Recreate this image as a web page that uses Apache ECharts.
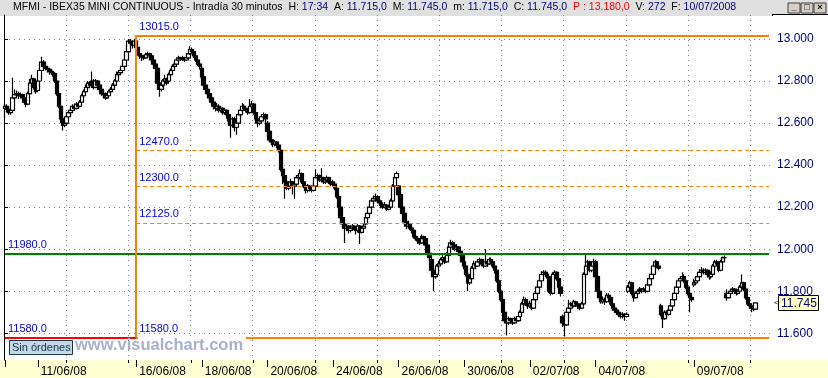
<!DOCTYPE html>
<html>
<head>
<meta charset="utf-8">
<script src="https://cdn.jsdelivr.net/npm/echarts@6/dist/echarts.min.js"></script>
<style>
html,body{margin:0;padding:0;}
body{background:#fff;}
#c{width:828px;height:378px;background:linear-gradient(to bottom,#e0e0e0 0px,#e0e0e0 16px,#ffffff 16px,#ffffff 360px,#ffffd4 360px,#ffffd4 378px);}
</style>
</head>
<body>
<div id="c"></div>
<script>
// ---- data ----
const days = ['10/06/08','11/06/08','12/06/08','13/06/08','16/06/08','17/06/08','18/06/08','19/06/08','20/06/08','23/06/08','24/06/08','25/06/08','26/06/08','27/06/08','30/06/08','01/07/08','02/07/08','03/07/08','04/07/08','07/07/08','08/07/08','09/07/08','10/07/08'];
const times = ['09:00','09:30','10:00','10:30','11:00','11:30','12:00','12:30','13:00','13:30','14:00','14:30','15:00','15:30','16:00','16:30','17:00'];
const dateLabels = ['11/06/08','16/06/08','18/06/08','20/06/08','24/06/08','26/06/08','30/06/08','02/07/08','04/07/08','09/07/08'];
const tickOnlyDays = ['10/06/08'];
const padCategories = ['p1','p2','p3','p4','p5','p6','p7'];

// [open, close, low, high] per 30-minute bar
const ohlc = [
// 10/06
[12670,12680,12620,12695],[12680,12665,12650,12690],[12665,12650,12640,12670],[12650,12660,12640,12675],[12660,12720,12655,12815],[12720,12735,12710,12760],[12735,12740,12720,12755],[12740,12730,12715,12750],[12730,12735,12720,12745],[12735,12720,12710,12740],[12720,12700,12690,12725],[12700,12690,12675,12710],[12690,12740,12685,12750],[12740,12790,12735,12810],[12790,12810,12780,12830],[12810,12770,12760,12815],[12770,12750,12740,12780],
// 11/06
[12755,12800,12750,12810],[12800,12850,12795,12860],[12850,12890,12845,12915],[12890,12870,12860,12900],[12870,12860,12850,12880],[12860,12855,12840,12870],[12855,12845,12830,12860],[12845,12840,12830,12855],[12840,12835,12820,12850],[12835,12800,12790,12840],[12800,12740,12730,12805],[12740,12680,12670,12745],[12680,12620,12600,12690],[12620,12590,12565,12630],[12590,12600,12580,12620],[12600,12630,12590,12645],[12630,12650,12620,12660],
// 12/06
[12650,12660,12640,12670],[12660,12680,12655,12690],[12680,12670,12660,12690],[12670,12690,12665,12700],[12690,12680,12670,12695],[12680,12700,12675,12710],[12700,12730,12695,12740],[12730,12750,12720,12760],[12750,12770,12745,12785],[12770,12790,12760,12800],[12790,12780,12765,12800],[12780,12800,12770,12845],[12800,12770,12760,12810],[12770,12800,12765,12810],[12800,12780,12770,12805],[12780,12760,12750,12790],[12760,12740,12730,12770],
// 13/06
[12735,12740,12720,12755],[12740,12720,12710,12745],[12720,12730,12715,12740],[12730,12750,12725,12760],[12750,12760,12740,12770],[12760,12780,12755,12790],[12780,12800,12770,12810],[12800,12830,12795,12845],[12830,12840,12820,12850],[12840,12850,12830,12860],[12850,12870,12845,12880],[12870,12900,12865,12920],[12900,12940,12895,12960],[12940,12990,12935,13000],[12990,12980,12960,13000],[12980,12970,12955,12990],[12970,12990,12965,13000],
// 16/06
[12990,12960,12950,13015],[12960,12930,12920,12970],[12930,12920,12905,12940],[12920,12915,12895,12930],[12915,12910,12900,12925],[12910,12925,12905,12935],[12925,12930,12915,12940],[12930,12920,12910,12935],[12920,12900,12890,12925],[12900,12880,12870,12905],[12880,12860,12850,12890],[12860,12790,12780,12865],[12790,12760,12725,12795],[12760,12780,12750,12790],[12780,12800,12770,12810],[12800,12810,12790,12830],[12810,12790,12780,12815],
// 17/06
[12800,12830,12795,12840],[12830,12850,12825,12860],[12850,12870,12845,12880],[12870,12880,12860,12890],[12880,12900,12875,12910],[12900,12910,12890,12920],[12910,12905,12895,12915],[12905,12910,12895,12920],[12910,12900,12890,12915],[12900,12910,12895,12920],[12910,12930,12905,12940],[12930,12950,12925,12965],[12950,12940,12930,12960],[12940,12920,12910,12945],[12920,12900,12890,12925],[12900,12880,12870,12905],[12880,12870,12855,12890],
// 18/06
[12860,12820,12810,12870],[12820,12780,12770,12830],[12780,12760,12740,12790],[12760,12740,12730,12770],[12740,12720,12700,12750],[12720,12700,12690,12730],[12700,12680,12665,12710],[12680,12670,12655,12690],[12670,12680,12660,12695],[12680,12660,12650,12690],[12660,12670,12650,12680],[12670,12650,12640,12675],[12650,12660,12640,12670],[12660,12640,12620,12665],[12640,12610,12590,12645],[12610,12590,12530,12620],[12590,12620,12580,12630],
// 19/06
[12620,12580,12560,12630],[12580,12600,12545,12610],[12600,12640,12595,12650],[12640,12660,12630,12670],[12660,12680,12650,12695],[12680,12670,12660,12690],[12670,12660,12650,12680],[12660,12650,12640,12670],[12650,12680,12645,12715],[12680,12690,12670,12705],[12690,12650,12640,12695],[12650,12620,12610,12655],[12620,12600,12580,12630],[12600,12610,12590,12620],[12610,12630,12600,12640],[12630,12640,12620,12650],[12640,12620,12600,12645],
// 20/06
[12600,12560,12545,12610],[12560,12520,12510,12565],[12520,12510,12495,12530],[12510,12500,12485,12520],[12500,12510,12490,12520],[12510,12495,12480,12515],[12495,12470,12460,12500],[12470,12380,12370,12475],[12380,12350,12310,12390],[12350,12320,12240,12360],[12320,12290,12280,12330],[12290,12300,12280,12310],[12300,12320,12295,12335],[12320,12300,12260,12325],[12300,12310,12240,12320],[12310,12340,12305,12350],[12340,12350,12330,12360],
// 23/06
[12340,12360,12330,12380],[12360,12320,12310,12365],[12320,12300,12290,12325],[12300,12280,12265,12305],[12280,12300,12270,12310],[12300,12290,12275,12305],[12290,12280,12270,12295],[12280,12300,12275,12320],[12300,12340,12295,12380],[12340,12350,12330,12360],[12350,12330,12320,12355],[12330,12340,12320,12385],[12340,12320,12310,12345],[12320,12330,12310,12340],[12330,12340,12320,12350],[12340,12320,12310,12345],[12320,12310,12300,12325],
// 24/06
[12320,12310,12300,12330],[12310,12290,12280,12320],[12290,12250,12240,12295],[12250,12200,12190,12255],[12200,12150,12120,12205],[12150,12120,12100,12155],[12120,12100,12030,12130],[12100,12110,12090,12120],[12110,12090,12075,12115],[12090,12100,12080,12110],[12100,12110,12090,12120],[12110,12100,12090,12115],[12100,12090,12070,12105],[12090,12110,12080,12120],[12110,12080,12025,12115],[12080,12100,12075,12110],[12100,12110,12090,12120],
// 25/06
[12120,12150,12115,12160],[12150,12170,12140,12180],[12170,12200,12165,12215],[12200,12230,12195,12245],[12230,12240,12220,12255],[12240,12250,12230,12265],[12250,12230,12220,12255],[12230,12220,12205,12240],[12220,12210,12195,12225],[12210,12200,12190,12220],[12200,12210,12195,12225],[12210,12190,12180,12215],[12190,12200,12185,12210],[12200,12230,12195,12240],[12230,12300,12225,12310],[12300,12340,12295,12350],[12340,12360,12335,12370],
// 26/06
[12300,12260,12250,12305],[12260,12200,12190,12270],[12200,12170,12160,12210],[12170,12130,12120,12180],[12130,12110,12095,12140],[12110,12120,12100,12135],[12120,12100,12090,12125],[12100,12090,12075,12110],[12090,12060,12050,12095],[12060,12050,12040,12070],[12050,12040,12025,12060],[12040,12030,12020,12050],[12030,12060,12025,12070],[12060,12050,12040,12065],[12050,12020,12010,12055],[12020,11980,11970,12025],[11980,11960,11945,11990],
// 27/06
[11950,11900,11890,11960],[11900,11870,11800,11910],[11870,11880,11860,11895],[11880,11920,11875,11930],[11920,11930,11910,11945],[11930,11950,11925,11960],[11950,11960,11940,11975],[11960,11940,11930,11965],[11940,11970,11935,11985],[11970,12010,11965,12020],[12010,12030,12000,12045],[12030,12020,12005,12040],[12020,12000,11990,12030],[12000,12010,11990,12025],[12010,11990,11975,12015],[11990,11970,11960,11995],[11970,11940,11930,11975],
// 30/06
[11940,11920,11905,11950],[11920,11880,11870,11925],[11880,11840,11800,11890],[11840,11860,11830,11870],[11860,11910,11855,11920],[11910,11930,11900,11945],[11930,11920,11905,11940],[11920,11940,11915,11950],[11940,11950,11930,11960],[11950,11930,11920,11955],[11930,11920,11910,11940],[11920,11940,11915,12000],[11940,11930,11915,11950],[11930,11950,11925,11960],[11950,11940,11930,11960],[11940,11920,11910,11945],[11920,11900,11885,11925],
// 01/07
[11900,11850,11840,11905],[11850,11800,11790,11860],[11800,11760,11750,11810],[11760,11700,11690,11770],[11700,11660,11650,11710],[11660,11650,11590,11670],[11650,11670,11640,11680],[11670,11660,11645,11675],[11660,11650,11640,11670],[11650,11670,11645,11680],[11670,11660,11650,11680],[11660,11680,11655,11690],[11680,11700,11675,11710],[11700,11740,11695,11750],[11740,11760,11730,11775],[11760,11740,11730,11770],[11740,11730,11715,11750],
// 02/07
[11730,11740,11720,11755],[11740,11720,11710,11750],[11720,11760,11715,11770],[11760,11790,11755,11800],[11790,11820,11785,11830],[11820,11850,11815,11860],[11850,11880,11845,11895],[11880,11890,11870,11900],[11890,11880,11870,11900],[11880,11870,11860,11890],[11870,11800,11790,11875],[11800,11790,11780,11810],[11790,11880,11785,11890],[11880,11890,11870,11900],[11890,11860,11850,11895],[11860,11820,11810,11865],[11820,11790,11775,11830],
// 03/07
[11680,11650,11630,11690],[11650,11640,11585,11660],[11640,11700,11635,11710],[11700,11720,11690,11760],[11720,11740,11710,11750],[11740,11730,11720,11750],[11730,11750,11725,11760],[11750,11740,11725,11755],[11740,11730,11715,11745],[11730,11720,11710,11740],[11720,11740,11715,11750],[11740,11880,11735,11890],[11880,11920,11870,11980],[11920,11940,11900,11950],[11940,11900,11890,11945],[11900,11920,11890,11930],[11920,11940,11910,11955],
// 04/07
[11940,11870,11860,11950],[11870,11800,11790,11880],[11800,11770,11755,11810],[11770,11750,11740,11780],[11750,11760,11740,11775],[11760,11750,11735,11770],[11750,11780,11745,11790],[11780,11770,11755,11790],[11770,11740,11730,11775],[11740,11720,11710,11745],[11720,11710,11700,11730],[11710,11700,11690,11720],[11700,11690,11680,11710],[11690,11680,11670,11700],[11680,11690,11670,11700],[11690,11680,11660,11695],[11680,11690,11675,11700],
// 07/07
[11800,11820,11790,11830],[11820,11840,11810,11850],[11840,11790,11780,11845],[11790,11770,11750,11800],[11770,11790,11765,11800],[11790,11800,11785,11810],[11800,11810,11795,11820],[11810,11800,11790,11815],[11800,11810,11795,11820],[11810,11800,11790,11815],[11800,11830,11795,11840],[11830,11860,11825,11870],[11860,11880,11855,11890],[11880,11920,11875,11930],[11920,11940,11910,11950],[11940,11920,11910,11945],[11920,11910,11900,11930],
// 08/07
[11730,11690,11680,11740],[11690,11670,11625,11700],[11670,11700,11665,11710],[11700,11690,11680,11710],[11690,11710,11685,11720],[11710,11730,11705,11740],[11730,11760,11725,11770],[11760,11790,11755,11800],[11790,11820,11785,11830],[11820,11850,11815,11860],[11850,11860,11840,11870],[11860,11870,11850,11890],[11870,11850,11840,11880],[11850,11820,11810,11860],[11820,11790,11780,11825],[11790,11770,11700,11800],[11770,11760,11750,11780],
// 09/07
[11830,11840,11820,11860],[11840,11850,11830,11870],[11850,11870,11845,11880],[11870,11890,11865,11905],[11890,11900,11880,11915],[11900,11890,11880,11910],[11890,11900,11885,11910],[11900,11880,11865,11905],[11880,11870,11855,11890],[11870,11880,11860,11895],[11880,11920,11875,11930],[11920,11940,11915,11950],[11940,11930,11920,11950],[11930,11900,11890,11940],[11900,11940,11895,11950],[11940,11960,11935,11965],[11960,11960,11950,11970],
// 10/07
[11790,11770,11755,11810],[11770,11790,11765,11800],[11790,11800,11785,11810],[11800,11810,11795,11820],[11810,11800,11790,11815],[11800,11790,11780,11805],[11790,11800,11785,11810],[11800,11820,11795,11830],[11820,11840,11815,11880],[11840,11810,11800,11845],[11810,11770,11760,11815],[11770,11740,11730,11775],[11740,11730,11715,11750],[11730,11720,11700,11740],[11720,11715,11705,11730],[11715,11745,11715,11745]
];

// reference lines drawn by the software
const vLineDay = '16/06/08';
const topLevel = 13015;
const dashedLevels = [12470, 12300, 12125];
const greenLevel = 11980;
const bottomLevel = 11580;

const headerTitle = 'MFMI - IBEX35 MINI CONTINUOUS - Intradía 30 minutos';
const headerFields = [['H: ','17:34'],['A: ','11.715,0'],['M: ','11.745,0'],['m: ','11.715,0'],['C: ','11.745,0'],['P : ','13.180,0'],['V: ','272'],['F: ','10/07/2008']];
const ordersText = 'Sin órdenes';
const watermarkText = 'www.visualchart.com';

// ---- build ----
const categories = [];
days.forEach(d => times.forEach(t => categories.push(d + ' ' + t)));
padCategories.forEach(p => categories.push(p));
const perDay = times.length;
const labelIdx = new Set(dateLabels.map(d => days.indexOf(d) * perDay));
const tickIdx = new Set([...labelIdx, ...tickOnlyDays.map(d => days.indexOf(d) * perDay)]);
const vIdx = days.indexOf(vLineDay) * perDay;
const endIdx = categories.length - 2;
const lastBar = ohlc[ohlc.length - 1];
const lastClose = lastBar[1];

const FONT = '"Liberation Sans", Arial, sans-serif';
const ORANGE = '#ff8000';
const GRID_STEPS = 12.35;

function lvlLabel(v) {
  return {show: true, position: 'insideStartTop', distance: [3, 3], formatter: v.toFixed(1), color: '#0000ff', fontSize: 11, fontFamily: FONT};
}
const markData = [
  [{coord: [vIdx, topLevel], lineStyle: {color: ORANGE, width: 2, type: 'solid'}, label: lvlLabel(topLevel)}, {coord: [endIdx, topLevel]}],
  ...dashedLevels.map(v => [{coord: [vIdx, v], lineStyle: {color: ORANGE, width: 1, type: [4, 3]}, label: lvlLabel(v)}, {coord: [endIdx, v]}]),
  [{coord: [0, greenLevel], lineStyle: {color: '#008000', width: 2, type: 'solid'}, label: lvlLabel(greenLevel)}, {coord: [endIdx, greenLevel]}],
  [{coord: [0, bottomLevel], lineStyle: {color: '#ff0000', width: 2, type: 'solid'}, label: lvlLabel(bottomLevel)}, {coord: [vIdx, bottomLevel]}],
  [{coord: [vIdx, bottomLevel], lineStyle: {color: ORANGE, width: 2, type: 'solid'}, label: lvlLabel(bottomLevel)}, {coord: [endIdx, bottomLevel]}],
  [{coord: [vIdx, topLevel], lineStyle: {color: ORANGE, width: 2, type: 'solid'}, label: {show: false}}, {coord: [vIdx, bottomLevel]}]
];

let headerRich = '{k|' + headerTitle + '}';
headerFields.forEach(f => {
  if (f[0].startsWith('P')) headerRich += '{k|  }{r|' + f[0] + f[1] + '}';
  else headerRich += '{k|  ' + f[0] + '}{v|' + f[1] + '}';
});

const chart = echarts.init(document.getElementById('c'), null, {renderer: 'canvas'});
chart.setOption({
  animation: false,
  backgroundColor: 'transparent',
  title: {
    text: headerRich, left: 13, top: 2, padding: 0,
    textStyle: {fontSize: 10.5, fontFamily: FONT, fontWeight: 'normal', rich: {
      k: {color: '#000000', fontSize: 10.5, fontFamily: FONT},
      v: {color: '#000080', fontSize: 10.5, fontFamily: FONT},
      r: {color: '#ff0000', fontSize: 10.5, fontFamily: FONT}
    }}
  },
  grid: {left: 4, right: 56, top: 15, bottom: 18, containLabel: false, outerBoundsMode: 'none'},
  xAxis: [{
    type: 'category', data: categories, boundaryGap: true,
    axisLine: {show: false},
    axisTick: {show: true, alignWithLabel: true, length: 7, interval: (i) => tickIdx.has(i), lineStyle: {color: '#000', width: 1}},
    axisLabel: {show: true, interval: (i) => labelIdx.has(i), formatter: (v) => v.split(' ')[0], align: 'left', padding: [0, 0, 0, 3], margin: 6, color: '#000', fontSize: 12, fontFamily: FONT},
    splitLine: {show: false}
  }, {
    type: 'value', min: 0, max: GRID_STEPS, interval: 1, position: 'top',
    axisLine: {show: false}, axisTick: {show: false}, axisLabel: {show: false},
    splitLine: {show: true, showMinLine: false, showMaxLine: false, lineStyle: {color: '#808080', width: 1, type: [1, 4]}}
  }],
  yAxis: {
    type: 'value', position: 'right', min: 11473, max: 13114, splitNumber: 8, minInterval: 200, maxInterval: 200,
    axisLine: {show: true, lineStyle: {color: '#000', width: 1}},
    axisTick: {show: true, length: 4, lineStyle: {color: '#000'}},
    axisLabel: {show: true, showMinLabel: false, showMaxLabel: false, margin: 5, color: '#000080', fontSize: 12, fontFamily: FONT,
      formatter: (v) => (v % 200 === 0 ? (v / 1000).toFixed(3) : '')},
    splitLine: {show: true, showMinLine: false, showMaxLine: false, lineStyle: {color: '#808080', width: 1, type: [1, 4]}}
  },
  series: [{
    type: 'candlestick', xAxisIndex: 0, yAxisIndex: 0, data: ohlc, barWidth: 4,
    itemStyle: {color: '#ffffff', color0: '#000000', borderColor: '#000000', borderColor0: '#000000', borderWidth: 1.2},
    markLine: {silent: true, symbol: ['none', 'none'], animation: false, data: markData}
  }]
});

const tagY = chart.convertToPixel({yAxisIndex: 0}, lastClose);
const axisX = 828 - 56;
const bottomY = 378 - 18;
const btn = (x, glyph) => ({type: 'group', x: x, y: 3, children: [
  {type: 'rect', shape: {x: 0, y: 0, width: 12, height: 10}, style: {fill: '#d4d0c8', stroke: '#404040', lineWidth: 1}},
  {type: 'text', style: {x: 6, y: 5, text: glyph, align: 'center', verticalAlign: 'middle', fontSize: 9, fontWeight: 'bold', fontFamily: FONT, fill: '#000'}}
]});
const gridTicks = [];
for (let k = 1; k <= Math.floor(GRID_STEPS); k++) {
  const gx = Math.round(chart.convertToPixel({xAxisIndex: 1}, k)) + 0.5;
  gridTicks.push({type: 'line', z: 40, shape: {x1: gx, y1: bottomY, x2: gx, y2: bottomY + 3}, style: {stroke: '#000', lineWidth: 1}});
}
chart.setOption({graphic: [
  {type: 'rect', z: -1, shape: {x: axisX, y: 14, width: 56, height: bottomY - 14}, style: {fill: '#ffffff'}},
  {type: 'line', z: 50, shape: {x1: axisX, y1: 14.5, x2: 828, y2: 14.5}, style: {stroke: '#000', lineWidth: 1}},
  {type: 'line', z: 50, shape: {x1: axisX + 0.5, y1: 14, x2: axisX + 0.5, y2: 16}, style: {stroke: '#000', lineWidth: 1}},
  ...gridTicks,
  btn(788, '_'), btn(801, '□'), btn(814, '×'),
  {type: 'rect', z: 50, shape: {x: 138, y: 336, width: 108, height: 20}, style: {fill: '#ffffff'}},
  {type: 'text', z: 51, style: {x: 75, y: 345, text: watermarkText, verticalAlign: 'middle', fontSize: 16.5, fontWeight: 'bold', fontFamily: FONT, fill: '#a8b0cc'}},
  {type: 'rect', z: 52, shape: {x: 9.5, y: 340.5, width: 63, height: 14}, style: {fill: '#c4d8e8', stroke: '#1c3848', lineWidth: 1}},
  {type: 'text', z: 53, style: {x: 12, y: 348, text: ordersText, verticalAlign: 'middle', fontSize: 11, fontFamily: FONT, fill: '#10303c'}},
  {type: 'text', z: 60, style: {x: axisX + 2, y: tagY, text: '<', verticalAlign: 'middle', fontSize: 8, fontFamily: FONT, fill: '#000'}},
  {type: 'rect', z: 60, shape: {x: 778.5, y: Math.round(tagY) - 7.5, width: 40, height: 15}, style: {fill: '#ffffc0', stroke: '#000', lineWidth: 1}},
  {type: 'text', z: 61, style: {x: 781, y: tagY + 0.5, text: (lastClose / 1000).toFixed(3), verticalAlign: 'middle', fontSize: 12, fontFamily: FONT, fill: '#000080'}}
]});
</script>
</body>
</html>
